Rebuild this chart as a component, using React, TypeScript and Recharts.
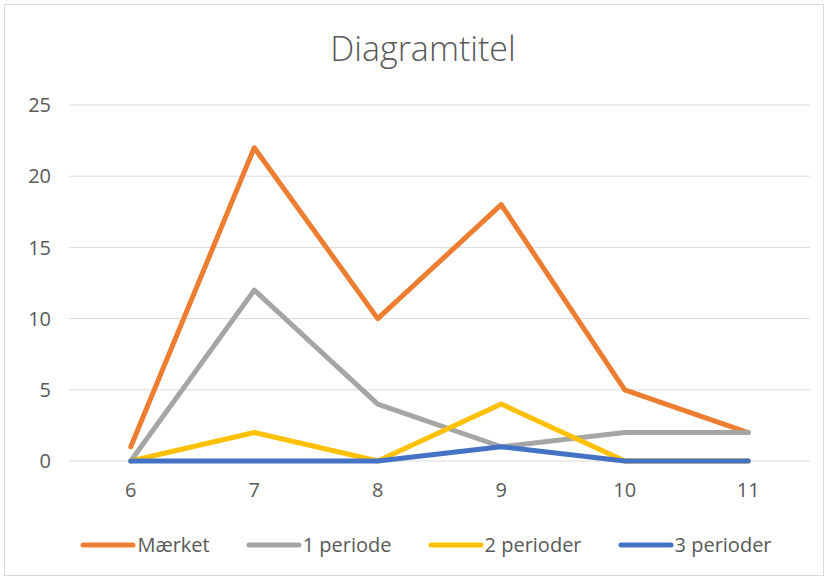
import { CartesianGrid, Line, LineChart, XAxis, YAxis } from 'recharts';

const CATEGORIES = ['6', '7', '8', '9', '10', '11'];
const MAERKET = [1, 22, 10, 18, 5, 2];
const PERIODE_1 = [0, 12, 4, 1, 2, 2];
const PERIODER_2 = [0, 2, 0, 4, 0, 0];
const PERIODER_3 = [0, 0, 0, 1, 0, 0];
const Y_TICKS = [0, 5, 10, 15, 20, 25];

const SERIES = [
  { key: 'maerket', name: 'Mærket', color: '#ED7D31', values: MAERKET },
  { key: 'p1', name: '1 periode', color: '#A5A5A5', values: PERIODE_1 },
  { key: 'p2', name: '2 perioder', color: '#FFC000', values: PERIODER_2 },
  { key: 'p3', name: '3 perioder', color: '#4472C4', values: PERIODER_3 },
];

const data = CATEGORIES.map((label, i) => {
  const row: Record<string, string | number> = { label };
  SERIES.forEach((s) => {
    row[s.key] = s.values[i];
  });
  return row;
});

const FONT = '"Open Sans", "Liberation Sans", sans-serif';
const TEXT = '#595959';
// half a category band on each side, like Excel's "between tick marks"
const BAND_PAD = 61.75;

export default function App() {
  return (
    <div style={{ position: 'fixed', left: 0, top: 0, width: 828, height: 579, background: '#fff' }}>
      <div
        style={{
          position: 'absolute',
          left: 4,
          top: 4,
          width: 818,
          height: 570,
          border: '1px solid #D9D9D9',
        }}
      />
      <div
        style={{
          position: 'absolute',
          top: 25,
          left: 0,
          width: 846,
          textAlign: 'center',
          fontFamily: FONT,
          fontSize: 34,
          color: TEXT,
          fontWeight: 300,
        }}
      >
        Diagramtitel
      </div>
      <LineChart
        width={828}
        height={579}
        data={data}
        margin={{ top: 105, right: 18, bottom: 58, left: 0 }}
        style={{ position: 'absolute', left: 0, top: 0 }}
      >
        <CartesianGrid vertical={false} stroke="#D9D9D9" strokeWidth={1} />
        <XAxis
          dataKey="label"
          height={60}
          padding={{ left: BAND_PAD, right: BAND_PAD }}
          axisLine={false}
          tickLine={false}
          tickSize={0}
          tickMargin={22}
          tick={{ fill: TEXT, fontSize: 20, fontFamily: FONT }}
        />
        <YAxis
          width={69}
          domain={[0, 25]}
          ticks={Y_TICKS}
          axisLine={false}
          tickLine={false}
          tickSize={0}
          tickMargin={18}
          tick={{ fill: TEXT, fontSize: 20, fontFamily: FONT }}
        />
        {SERIES.map((s) => (
          <Line
            key={s.key}
            type="linear"
            dataKey={s.key}
            name={s.name}
            stroke={s.color}
            strokeWidth={5}
            strokeLinejoin="round"
            strokeLinecap="round"
            dot={false}
            activeDot={false}
            isAnimationActive={false}
          />
        ))}
      </LineChart>
      <div
        style={{
          position: 'absolute',
          top: 531,
          left: 0,
          width: 852,
          display: 'flex',
          justifyContent: 'center',
          gap: 36,
          fontFamily: FONT,
          fontSize: 20,
          color: TEXT,
        }}
      >
        {SERIES.map((s) => (
          <div key={s.key} style={{ display: 'flex', alignItems: 'center' }}>
            <svg width={56} height={10} style={{ marginRight: 1 }}>
              <line x1={3} y1={5} x2={53} y2={5} stroke={s.color} strokeWidth={5} strokeLinecap="round" />
            </svg>
            <span>{s.name}</span>
          </div>
        ))}
      </div>
    </div>
  );
}
